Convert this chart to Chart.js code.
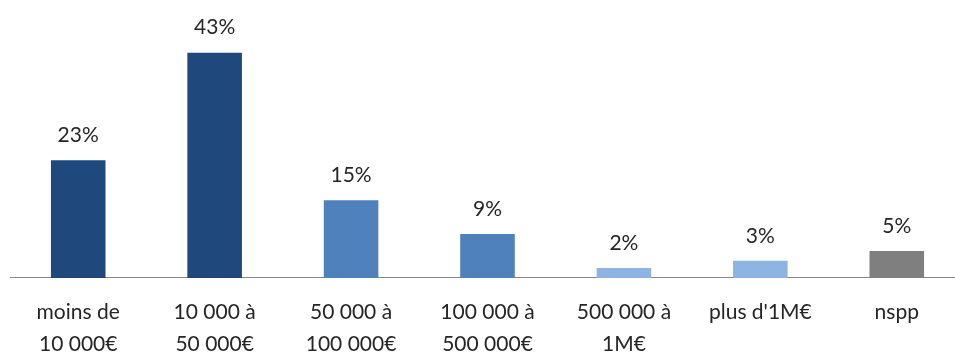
<!DOCTYPE html>
<html>
<head>
<meta charset="utf-8">
<script src="https://cdn.jsdelivr.net/npm/chart.js@4"></script>
<style>
  html, body { margin: 0; padding: 0; background: #fff; overflow: hidden; }
  #wrap { width: 965px; height: 371px; position: relative; }
</style>
</head>
<body>
<div id="wrap"><canvas id="chart"></canvas></div>
<script>
// categories (x axis, two lines each)
var categories = [
  ['moins de', '10 000€'],
  ['10 000 à', '50 000€'],
  ['50 000 à', '100 000€'],
  ['100 000 à', '500 000€'],
  ['500 000 à', '1M€'],
  ["plus d'1M€"],
  ['nspp']
];
// share of respondents (%)
var values = [22.7, 43.5, 15.0, 8.5, 1.9, 3.3, 5.2];
var valueLabels = ['23%', '43%', '15%', '9%', '2%', '3%', '5%'];
var barColors = ['#1F497D', '#1F497D', '#4F81BD', '#4F81BD', '#8DB4E2', '#8DB4E2', '#7F7F7F'];

// draws the % above each bar
const valueLabelPlugin = {
  id: 'valueLabels',
  afterDatasetsDraw(chart) {
    const ctx = chart.ctx;
    const meta = chart.getDatasetMeta(0);
    ctx.save();
    ctx.font = '21px Lato, "Open Sans", sans-serif';
    ctx.fillStyle = '#262626';
    ctx.textAlign = 'center';
    ctx.textBaseline = 'middle';
    meta.data.forEach(function (bar, i) {
      ctx.fillText(valueLabels[i], bar.x, bar.y - 25);
    });
    ctx.restore();
  }
};

new Chart(document.getElementById('chart'), {
  type: 'bar',
  data: {
    labels: categories,
    datasets: [{
      data: values,
      backgroundColor: barColors,
      borderWidth: 0,
      barPercentage: 0.4,
      categoryPercentage: 1.0
    }]
  },
  options: {
    responsive: true,
    maintainAspectRatio: false,
    animation: false,
    layout: { padding: { left: 10, right: 0, top: 19, bottom: 0 } },
    plugins: { legend: { display: false }, tooltip: { enabled: false } },
    scales: {
      x: {
        grid: { display: false },
        border: { display: true, color: '#868686', width: 1 },
        ticks: {
          color: '#262626',
          padding: 10,
          maxRotation: 0,
          autoSkip: false,
          font: { family: 'Lato, "Open Sans", sans-serif', size: 21, lineHeight: 1.55 }
        }
      },
      y: {
        display: false,
        min: 0,
        max: 50
      }
    }
  },
  plugins: [valueLabelPlugin]
});
</script>
</body>
</html>
